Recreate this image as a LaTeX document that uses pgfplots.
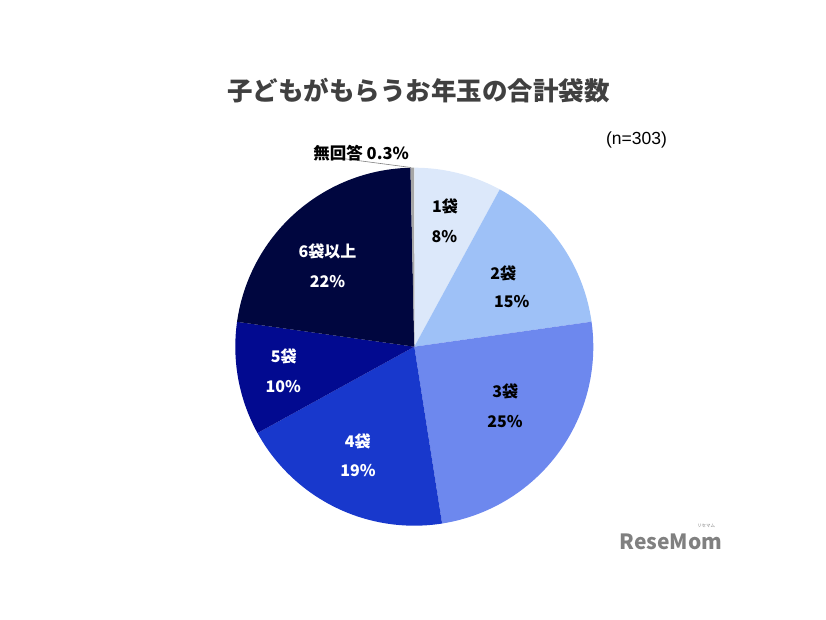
\documentclass[border=0pt]{standalone}
\usepackage{pgfplots}
\usepackage{pgfplotstable}
\pgfplotsset{compat=1.18}
\usepackage{fontspec}
\setmainfont{Noto Sans CJK JP}
\newfontfamily\jp{Noto Sans CJK JP}
\newfontfamily\arial{Liberation Sans}

\definecolor{c1}{HTML}{DCE8FA}
\definecolor{c2}{HTML}{9EC1F7}
\definecolor{c3}{HTML}{6D88EE}
\definecolor{c4}{HTML}{1838CC}
\definecolor{c5}{HTML}{020A90}
\definecolor{c6}{HTML}{00063F}
\definecolor{c7}{HTML}{A6A6A6}
\definecolor{titlegray}{HTML}{404040}

% share of each answer, in percent (n=303)
\pgfplotstableread{
pct   col
7.92  c1
14.85 c2
24.75 c3
19.47 c4
10.23 c5
22.44 c6
0.33  c7
}\piedata

\begin{document}
\begin{tikzpicture}
\begin{axis}[
    scale only axis,
    width=826bp, height=620bp,
    xmin=0, xmax=826, ymin=0, ymax=620,
    y dir=reverse,
    hide axis,
    clip=false,
]
\path (axis cs:0,0) rectangle (axis cs:826,620);

% wedges, clockwise from 12 o'clock
\xdef\angA{90}
\pgfplotsinvokeforeach{0,...,6}{
    \pgfplotstablegetelem{#1}{pct}\of\piedata \let\p\pgfplotsretval
    \pgfplotstablegetelem{#1}{col}\of\piedata \let\c\pgfplotsretval
    \pgfmathsetmacro\angB{\angA-3.6*\p}
    \edef\doit{\noexpand\addplot[fill=\c, draw=none, domain=\angB:\angA, samples=60]
        ({414.3+179*cos(x)},{346.7-179*sin(x)}) -- (axis cs:414.3,346.7) -- cycle;}
    \doit
    \xdef\angA{\angB}
}

\draw[gray, line width=0.6bp] (axis cs:331,157) -- (axis cs:411,167.5);

\tikzset{lab/.style={font={\jp\bfseries\fontsize{16bp}{19bp}\selectfont}, inner sep=0pt}}
\node[lab, text=black] at (axis cs:445,206.5) {1袋};
\node[lab, text=black] at (axis cs:444.5,237) {8\%};
\node[lab, text=black] at (axis cs:503.3,273) {2袋};
\node[lab, text=black] at (axis cs:511.7,302) {15\%};
\node[lab, text=black] at (axis cs:505.3,391.7) {3袋};
\node[lab, text=black] at (axis cs:505,421.7) {25\%};
\node[lab, text=white] at (axis cs:357.8,441) {4袋};
\node[lab, text=white] at (axis cs:358,471) {19\%};
\node[lab, text=white] at (axis cs:283.7,356.7) {5袋};
\node[lab, text=white] at (axis cs:283.3,386.7) {10\%};
\node[lab, text=white] at (axis cs:327.5,251.7) {6袋以上};
\node[lab, text=white] at (axis cs:327.5,281.7) {22\%};
\node[lab, text=black, font={\jp\bfseries\fontsize{16.5bp}{19bp}\selectfont}] at (axis cs:361.2,152.7) {無回答 0.3\%};

\node[font={\jp\bfseries\fontsize{25.5bp}{30bp}\selectfont}, text=titlegray, inner sep=0pt]
    at (axis cs:418.5,91) {子どもがもらうお年玉の合計袋数};
\node[font={\arial\fontsize{17.5bp}{20bp}\selectfont}, text=black, inner sep=0pt]
    at (axis cs:636.5,140) {(n=303)};

\node[font={\jp\bfseries\fontsize{21bp}{24bp}\selectfont}, text=gray, inner sep=0pt]
    at (axis cs:671,542) {ReseMom};
\node[font={\jp\fontsize{4.5bp}{5bp}\selectfont}, text=gray, inner sep=0pt]
    at (axis cs:706,526) {リセマム};
\end{axis}
\end{tikzpicture}
\end{document}
